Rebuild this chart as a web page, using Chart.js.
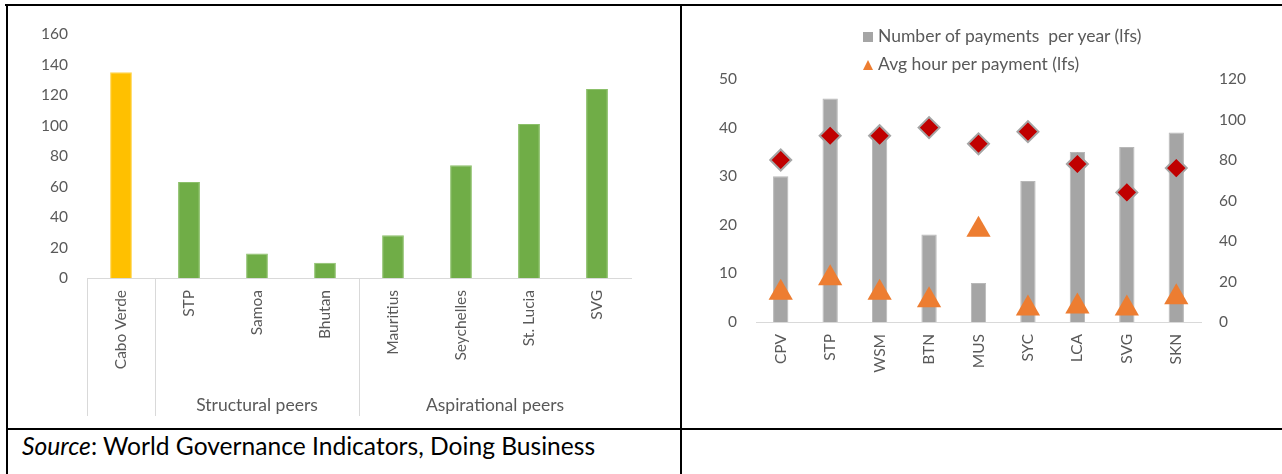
<!DOCTYPE html>
<html>
<head>
<meta charset="utf-8">
<script src="https://cdn.jsdelivr.net/npm/chart.js@4.4.1/dist/chart.umd.min.js"></script>
<style>
  body { margin: 0; background: #fff; width: 1282px; height: 474px; overflow: hidden; position: relative; font-family: Lato, sans-serif; }
  canvas { position: absolute; top: 0; }
  .line { position: absolute; background: #000; }
  #legend { position: absolute; left: 863px; top: 0; color: #595959; font: 17.5px Lato, sans-serif; }
  #legend .row { position: absolute; left: 0; white-space: pre; height: 20px; line-height: 20px; }
  #legend .sq { display: inline-block; width: 10px; height: 10px; margin-right: 5px; vertical-align: 0px; }
  #legend .tri { display: inline-block; width: 0; height: 0; border-left: 5px solid transparent; border-right: 5px solid transparent; border-bottom: 10px solid #ED7D31; margin-right: 5px; vertical-align: 0px; }
  #source { position: absolute; left: 22px; top: 434px; font: 24.6px Lato, sans-serif; line-height: 24px; color: #000; }
</style>
</head>
<body>
<canvas id="left" width="680" height="428" style="left:0"></canvas>
<canvas id="right" width="600" height="428" style="left:682px"></canvas>
<div id="legend"></div>
<div id="source"><i>Source</i>: World Governance Indicators, Doing Business</div>
<div class="line" style="left:5px; top:4px; width:1277px; height:2px"></div>
<div class="line" style="left:6px; top:4px; width:2px; height:470px"></div>
<div class="line" style="left:680px; top:4px; width:2px; height:470px"></div>
<div class="line" style="left:6px; top:428px; width:1276px; height:2px"></div>
<script>
// Left chart: governance score by country
const leftLabels = ['Cabo Verde', 'STP', 'Samoa', 'Bhutan', 'Mauritius', 'Seychelles', 'St. Lucia', 'SVG'];
const leftValues = [135, 63, 16, 10, 28, 74, 101, 124];
const leftTicks = [0, 20, 40, 60, 80, 100, 120, 140, 160];

// Right chart: paying taxes
const rightLabels = ['CPV', 'STP', 'WSM', 'BTN', 'MUS', 'SYC', 'LCA', 'SVG', 'SKN'];
const payments = [30, 46, 38, 18, 8, 29, 35, 36, 39];
const hoursPerPayment = [6, 9, 6, 4.5, 19, 2.8, 3.2, 2.8, 5.1];
const diamondValues = [80, 92, 92, 96, 88, 94, 78, 64, 76];
const rightTicksLeft = [0, 10, 20, 30, 40, 50];
const rightTicksRight = [0, 20, 40, 60, 80, 100, 120];

// Group rows under the category axis
const leftGroupNames = ['', 'Structural peers', 'Aspirational peers'];
const leftGroupSizes = [1, 3, 4];
const rightGroupNames = ['', 'Structural peers', 'Aspirational peers'];
const rightGroupSizes = [1, 3, 5];

const textGrey = '#595959';
const axisGrey = '#d9d9d9';
const font = { family: 'Lato', size: 15.5 };

// draws the second level of the category axis (group labels + separators)
const groupAxis = {
  id: 'groupAxis',
  afterDraw(chart, args, opts) {
    const xs = chart.scales.x;
    const ctx = chart.ctx;
    const top = chart.chartArea.bottom;
    const step = xs.getPixelForValue(1) - xs.getPixelForValue(0);
    ctx.save();
    ctx.strokeStyle = axisGrey;
    ctx.lineWidth = 1;
    ctx.fillStyle = textGrey;
    ctx.font = '17.5px Lato';
    ctx.textAlign = 'center';
    ctx.textBaseline = 'middle';
    let i = 0;
    const edges = [];
    opts.sizes.forEach((n, g) => {
      const x0 = xs.getPixelForValue(i) - step / 2;
      const x1 = xs.getPixelForValue(i + n - 1) + step / 2;
      edges.push(x0);
      if (opts.names[g]) ctx.fillText(opts.names[g], (x0 + x1) / 2, opts.labelY);
      i += n;
      if (g === opts.sizes.length - 1 && opts.closeEnd) edges.push(x1);
    });
    edges.forEach(x => {
      const px = Math.round(x) + 0.5;
      ctx.beginPath();
      ctx.moveTo(px, top);
      ctx.lineTo(px, opts.lineBottom);
      ctx.stroke();
    });
    ctx.restore();
  }
};

new Chart(document.getElementById('left'), {
  type: 'bar',
  data: {
    labels: leftLabels,
    datasets: [{
      data: leftValues,
      backgroundColor: c => c.dataIndex === 0 ? '#FFC000' : '#70AD47',
      borderColor: c => c.dataIndex === 0 ? '#ffd54d' : '#8cc06a',
      borderWidth: 1,
      barPercentage: 0.32,
      categoryPercentage: 1
    }]
  },
  options: {
    responsive: false,
    animation: false,
    layout: { padding: { top: 34, right: 49, left: 0, bottom: 0 } },
    plugins: {
      legend: { display: false },
      tooltip: { enabled: false },
      groupAxis: { names: leftGroupNames, sizes: leftGroupSizes, labelY: 405, lineBottom: 416, closeEnd: false }
    },
    scales: {
      x: {
        grid: { display: false, drawTicks: false },
        border: { display: true, color: axisGrey, width: 1 },
        ticks: { color: textGrey, font: font, minRotation: 90, maxRotation: 90, autoSkip: false, padding: 12 },
        afterFit: s => { s.height = 150; }
      },
      y: {
        min: 0, max: 160,
        grid: { display: false, drawTicks: false },
        border: { display: false },
        afterBuildTicks: s => { s.ticks = leftTicks.map(v => ({ value: v })); },
        ticks: { color: textGrey, font: font, padding: 19 },
        afterFit: s => { s.width = 87; }
      }
    }
  },
  plugins: [groupAxis]
});

const rightChart = new Chart(document.getElementById('right'), {
  type: 'bar',
  data: {
    labels: rightLabels,
    datasets: [{
      type: 'line',
      label: '',
      data: diamondValues,
      yAxisID: 'y1',
      showLine: false,
      pointStyle: 'rectRot',
      pointRadius: 10.5,
      pointBackgroundColor: '#C00000',
      pointBorderColor: '#A5A5A5',
      pointBorderWidth: 2,
      order: 0
    }, {
      type: 'line',
      label: 'Avg hour per payment (lfs)',
      data: hoursPerPayment,
      yAxisID: 'y',
      showLine: false,
      pointStyle: 'triangle',
      pointRadius: 14,
      pointBackgroundColor: '#ED7D31',
      pointBorderWidth: 0,
      order: 1
    }, {
      label: 'Number of payments  per year (lfs)',
      data: payments,
      yAxisID: 'y',
      backgroundColor: '#A5A5A5',
      borderColor: '#b8b8b8',
      borderWidth: 1,
      barPercentage: 0.31,
      categoryPercentage: 1,
      order: 2
    }]
  },
  options: {
    responsive: false,
    animation: false,
    layout: { padding: { top: 79, right: 0, left: 0, bottom: 0 } },
    plugins: {
      legend: { display: false },
      tooltip: { enabled: false },
      groupAxis: { names: rightGroupNames, sizes: rightGroupSizes, labelY: 403, lineBottom: 413, closeEnd: true }
    },
    scales: {
      x: {
        grid: { display: false, drawTicks: false },
        border: { display: true, color: axisGrey, width: 1 },
        ticks: { color: textGrey, font: font, minRotation: 90, maxRotation: 90, autoSkip: false, padding: 12 },
        afterFit: s => { s.height = 106; }
      },
      y: {
        position: 'left',
        min: 0, max: 50,
        grid: { display: false, drawTicks: false },
        border: { display: false },
        afterBuildTicks: s => { s.ticks = rightTicksLeft.map(v => ({ value: v })); },
        ticks: { color: textGrey, font: font, padding: 19 },
        afterFit: s => { s.width = 74; }
      },
      y1: {
        position: 'right',
        min: 0, max: 120,
        grid: { display: false, drawTicks: false },
        border: { display: false },
        afterBuildTicks: s => { s.ticks = rightTicksRight.map(v => ({ value: v })); },
        ticks: { color: textGrey, font: font, padding: 18 },
        afterFit: s => { s.width = 81; }
      }
    }
  }
});

// legend (two stacked rows, as in the original)
const legend = document.getElementById('legend');
const bars = rightChart.data.datasets[2];
const tris = rightChart.data.datasets[1];
legend.innerHTML =
  '<div class="row" style="top:26px"><span class="sq" style="background:#A5A5A5"></span>' + bars.label + '</div>' +
  '<div class="row" style="top:54px"><span class="tri"></span>' + tris.label + '</div>';
</script>
</body>
</html>
